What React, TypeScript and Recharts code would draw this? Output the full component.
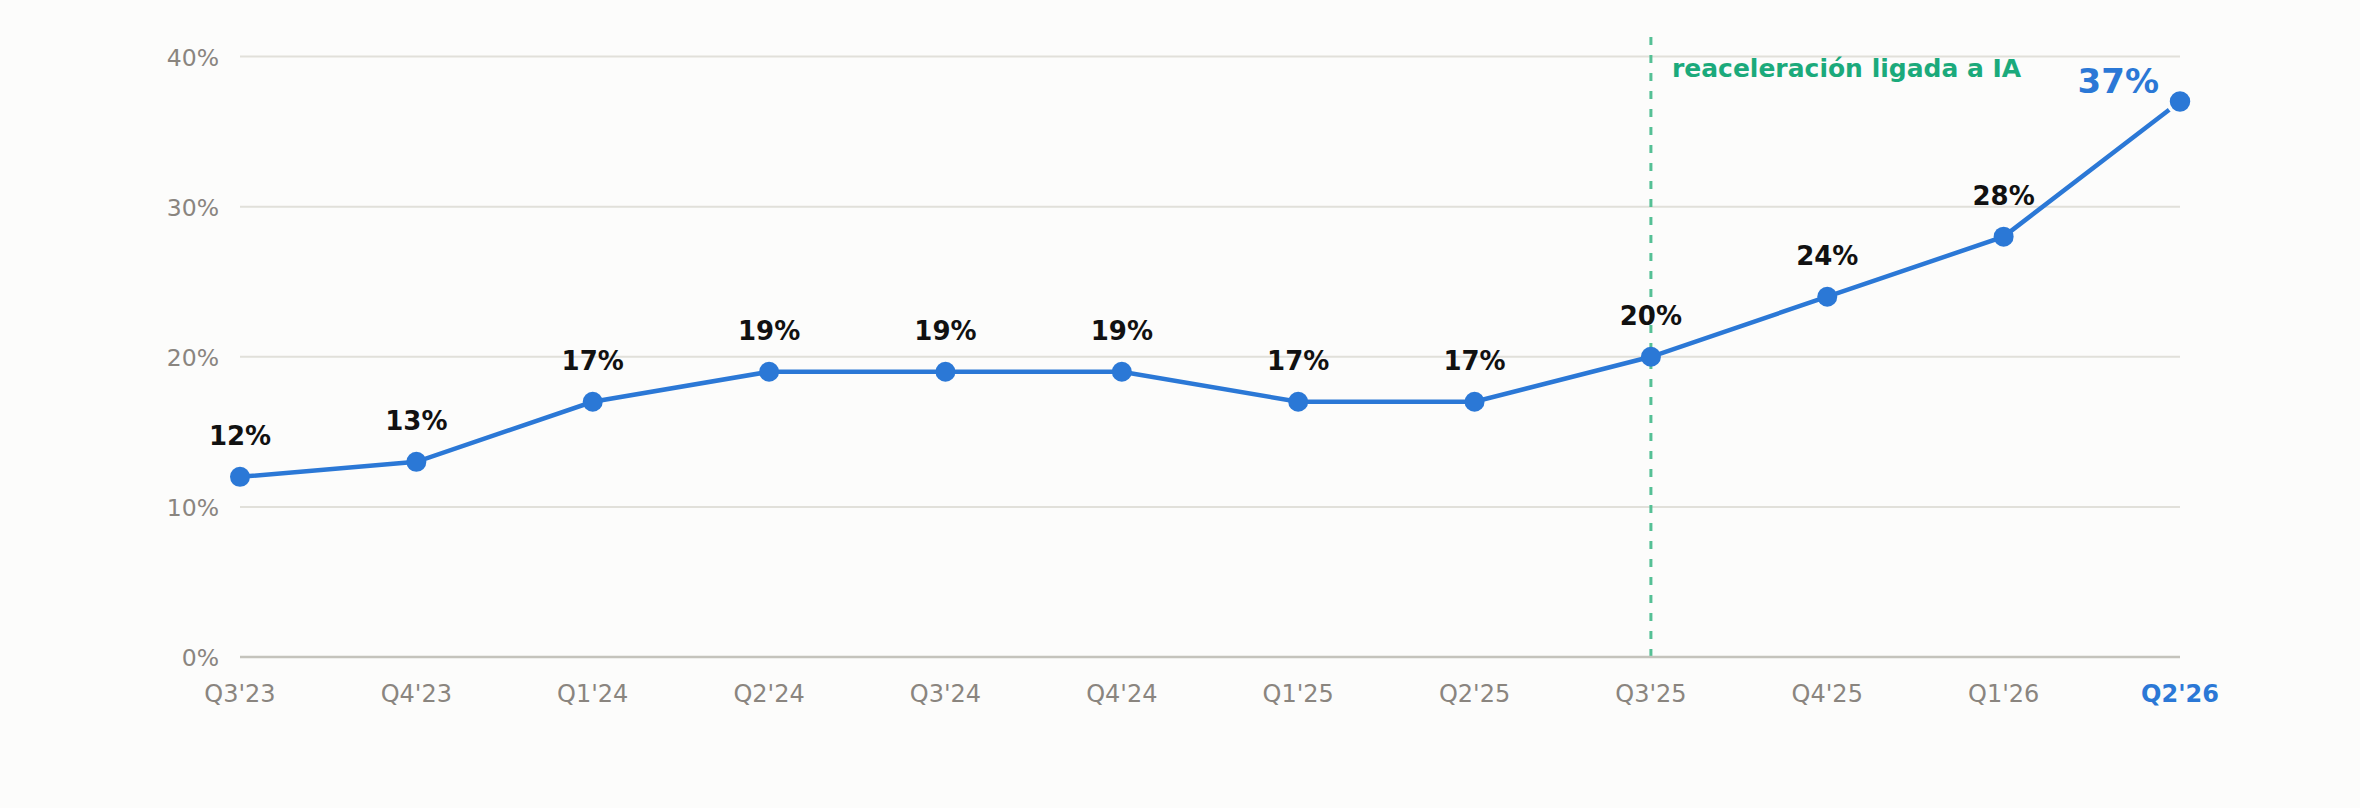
import React from "react";
import { LineChart, Line, XAxis, YAxis, CartesianGrid, ReferenceLine, LabelList } from "recharts";

const quarters = ["Q3'23", "Q4'23", "Q1'24", "Q2'24", "Q3'24", "Q4'24", "Q1'25", "Q2'25", "Q3'25", "Q4'25", "Q1'26", "Q2'26"];
const growth = [12, 13, 17, 19, 19, 19, 17, 17, 20, 24, 28, 37];
const yTicks = [0, 10, 20, 30, 40];
const markerQuarter = "Q3'25";
const annotation = "reaceleración ligada a IA";

const data = quarters.map((q, i) => ({ q, v: growth[i] }));

const BLUE = "#2B78D6";
const GREEN = "#1BAA7B";
const GREY = "#8A857F";
const FONT = "DejaVu Sans";
const LAST = quarters.length - 1;

const XTick = (props: any) => {
  const { x, y, payload } = props;
  const isLast = payload.value === quarters[LAST];
  return (
    <text
      x={x}
      y={y + 45}
      textAnchor="middle"
      fontFamily={FONT}
      fontSize={24}
      fontWeight={isLast ? "bold" : "normal"}
      fill={isLast ? BLUE : GREY}
    >
      {payload.value}
    </text>
  );
};

const YTick = (props: any) => {
  const { x, y, payload } = props;
  return (
    <text x={x} y={y + 9} textAnchor="end" fontFamily={FONT} fontSize={23.5} fill={GREY}>
      {payload.value}%
    </text>
  );
};

const Dot = (props: any) => {
  const { cx, cy, index } = props;
  if (index === LAST) {
    return <circle key={`d${index}`} cx={cx} cy={cy} r={12} fill={BLUE} stroke="#FCFCFB" strokeWidth={3.5} />;
  }
  return <circle key={`d${index}`} cx={cx} cy={cy} r={10} fill={BLUE} />;
};

const ValueLabel = (props: any) => {
  const { x, y, value, index } = props;
  if (index === LAST) {
    return (
      <text x={x - 21} y={y - 9} textAnchor="end" fontFamily={FONT} fontSize={34} fontWeight="bold" fill={BLUE}>
        {value}%
      </text>
    );
  }
  return (
    <text x={x} y={y - 32} textAnchor="middle" fontFamily={FONT} fontSize={26} fontWeight="bold" fill="#111">
      {value}%
    </text>
  );
};

const AnnotationLabel = (props: any) => {
  const { viewBox } = props;
  return (
    <text x={viewBox.x + 21} y={viewBox.y + 40} fontFamily={FONT} fontSize={25} fontWeight="bold" fill={GREEN}>
      {annotation}
    </text>
  );
};

export default function App() {
  return (
    <div style={{ width: 2360, height: 808, background: "#FCFCFB" }}>
      <style>{`body{margin:0;background:#FCFCFB}`}</style>
      <LineChart width={2360} height={808} data={data} margin={{ top: 37, right: 180, bottom: 91, left: 160 }}>
        <CartesianGrid
          horizontal
          vertical={false}
          horizontalValues={yTicks}
          syncWithTicks
          stroke="#E1E0DA"
          strokeWidth={2}
        />
        <XAxis
          dataKey="q"
          axisLine={{ stroke: "#C4C3BC", strokeWidth: 2.5 }}
          tickLine={false}
          tickSize={0}
          tickMargin={0}
          height={60}
          interval={0}
          tick={<XTick />}
        />
        <YAxis
          domain={[0, 41.3]}
          ticks={yTicks}
          axisLine={false}
          tickLine={false}
          tickSize={0}
          tickMargin={21}
          width={80}
          tick={<YTick />}
        />
        <ReferenceLine
          x={markerQuarter}
          stroke="#55C095"
          strokeWidth={3}
          strokeDasharray="8 10"
          label={<AnnotationLabel />}
        />
        <Line
          type="linear"
          dataKey="v"
          stroke={BLUE}
          strokeWidth={4.5}
          dot={<Dot />}
          activeDot={false}
          isAnimationActive={false}
        >
          <LabelList dataKey="v" content={<ValueLabel />} />
        </Line>
      </LineChart>
    </div>
  );
}
